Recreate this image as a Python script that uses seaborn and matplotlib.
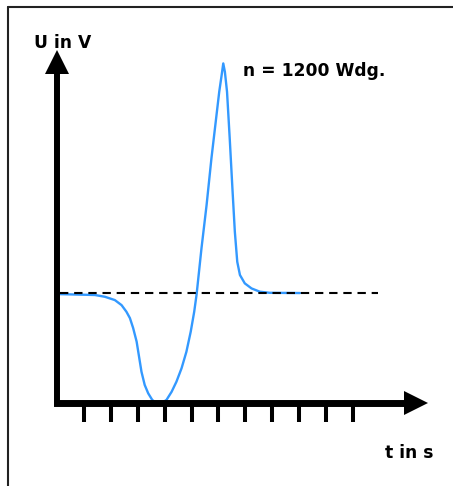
import numpy as np
import pandas as pd
import matplotlib.pyplot as plt
import seaborn as sns
from matplotlib.lines import Line2D

# Induzierte Spannung, Werte
t_werte = [0.10, 1.41, 1.78, 2.15, 2.40, 2.58, 2.71, 2.83, 2.96, 3.04, 3.14, 3.26, 3.39,
           3.54, 3.78, 4.07, 4.26, 4.44, 4.63, 4.81, 4.97, 5.10, 5.19, 5.37, 5.56, 5.74,
           5.90, 6.03, 6.12, 6.18, 6.24, 6.32, 6.42, 6.52, 6.61, 6.70, 6.80, 6.98, 7.23,
           7.54, 7.91, 9.03]
u_werte = [4.95, 4.91, 4.83, 4.68, 4.45, 4.15, 3.86, 3.41, 2.79, 2.18, 1.42, 0.82, 0.44,
           0.14, -0.09, 0.14, 0.51, 0.97, 1.58, 2.33, 3.24, 4.15, 4.95, 7.03, 9.0, 11.12,
           12.79, 14.15, 14.91, 15.44, 15.06, 14.15, 12.03, 9.76, 7.79, 6.42, 5.82, 5.44,
           5.21, 5.06, 5.01, 5.0]

# gestrichelte Ruhelinie
ruhe_t = [0.1, 11.92]
ruhe_u = [5.0, 5.0]

tick_t = [1, 2, 3, 4, 5, 6, 7, 8, 9, 10, 11]

df = pd.DataFrame({'t': t_werte, 'U': u_werte})

sns.set_style('white')
plt.rcParams['font.family'] = ['DejaVu Sans']

fig = plt.figure(figsize=(4.53, 4.86), dpi=100)
ax = fig.add_axes([57 / 453, 1 - 403 / 486, (428 - 57) / 453, (403 - 50) / 486])
ax.set_xlim(0, 13.79)
ax.set_ylim(0, 16.05)

sns.lineplot(data=df, x='t', y='U', sort=False, estimator=None, color='#3399ff', lw=1.7, ax=ax, zorder=2)
ax.plot(ruhe_t, ruhe_u, color='black', lw=1.5, dashes=[4.0, 2.8], zorder=3)

# Achsen als dicke Pfeile
for s in ['top', 'right']:
    ax.spines[s].set_visible(False)
ax.spines['left'].set_linewidth(4.3)
ax.spines['bottom'].set_linewidth(5.0)
ax.spines['left'].set_color('black')
ax.spines['bottom'].set_color('black')
ax.spines['left'].set_bounds(0, 15.0)
ax.spines['bottom'].set_bounds(0, 12.94)
ax.plot([0], [15.52], marker='^', ms=16.6, color='black', mew=0, clip_on=False, zorder=4)
ax.plot([13.36], [0], marker='>', ms=16.6, color='black', mew=0, clip_on=False, zorder=4)

ax.set_xticks(tick_t)
ax.set_xticklabels([])
ax.set_yticks([])
ax.tick_params(axis='x', direction='out', length=13.7, width=2.9, color='black', bottom=True)
ax.set_xlabel('')
ax.set_ylabel('')

fig.text(34 / 453, 1 - 48 / 486, 'U in V', fontsize=12.3, fontweight='bold', color='black', va='baseline')
fig.text(243 / 453, 1 - 76.5 / 486, 'n = 1200 Wdg.', fontsize=12.3, fontweight='bold', color='black', va='baseline')
fig.text(385 / 453, 1 - 458 / 486, 't in s', fontsize=12.3, fontweight='bold', color='black', va='baseline')

# Rahmen (oben und links)
fig.add_artist(Line2D([8 / 453, 1], [1 - 7 / 486, 1 - 7 / 486], color='#222222', lw=1.5))
fig.add_artist(Line2D([8 / 453, 8 / 453], [0, 1 - 7 / 486], color='#222222', lw=1.5))

fig.savefig('out.png', dpi=100)
